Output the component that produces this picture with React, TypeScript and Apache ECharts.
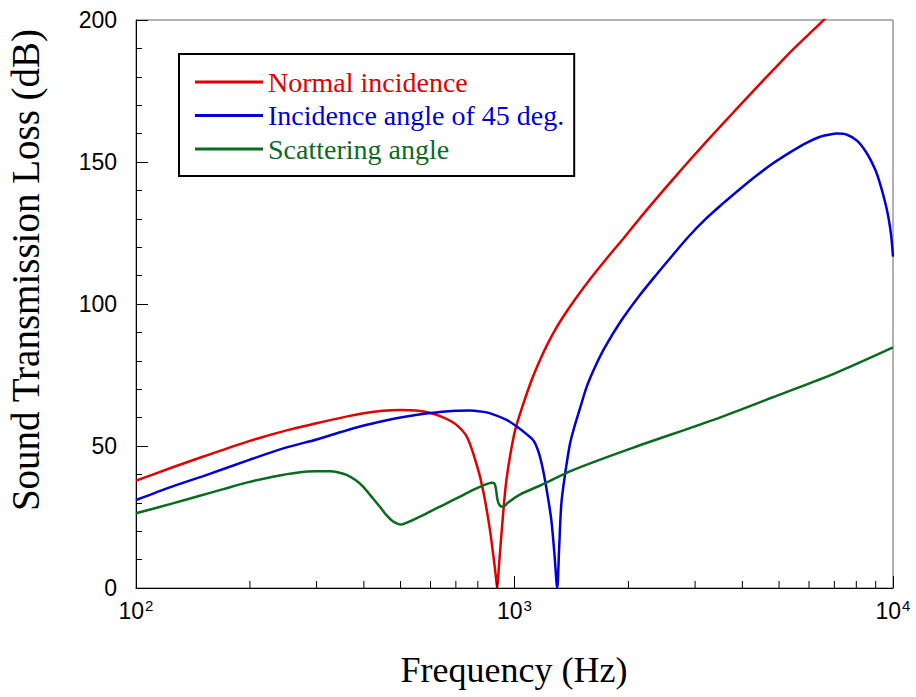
import React, { useEffect, useRef } from "react";
import * as echarts from "echarts";

// Normal incidence
const normalFreq = [100, 125, 150, 200, 250, 300, 350, 400, 450, 500, 550, 600, 650, 700, 750, 800, 830, 860, 880, 893, 900, 910, 925, 940, 952, 975, 1004, 1056, 1112, 1168, 1226, 1295, 1368, 1445, 1583, 1756, 1935, 2150, 2376, 2650, 2910, 3200, 3564, 3950, 4365, 4850, 5346, 5950, 6547, 7000];
const normalTL = [37.8, 42.5, 46.2, 51.8, 55.5, 58.0, 60.0, 61.5, 62.4, 62.7, 62.5, 61.6, 60.0, 57.6, 53.0, 42.0, 33.0, 21.0, 11.0, 4.0, 0, 8, 20, 31, 38, 47, 55.6, 65, 73.5, 80.3, 86.2, 92, 97, 101.6, 108.7, 116.2, 122.9, 130.4, 137.3, 144.6, 150.8, 156.9, 163.7, 170.1, 176.3, 182.7, 188.6, 194.6, 199.9, 203.8];

// Incidence angle of 45 deg.
const obliqueFreq = [100, 125, 150, 200, 250, 300, 350, 400, 450, 500, 600, 700, 760, 820, 863, 950, 1016, 1080, 1124, 1160, 1190, 1220, 1251, 1275, 1297, 1312, 1330, 1360, 1402, 1445, 1490, 1552, 1632, 1734, 1911, 2120, 2376, 2607, 2873, 3186, 3562, 3943, 4319, 4790, 5345, 5855, 6415, 6817, 7113, 7556, 8033, 8535, 8960, 9237, 9526, 9719, 9879, 10000];
const obliqueTL = [31.0, 35.8, 39.3, 45.2, 49.5, 52.3, 55.0, 57.2, 58.8, 60.0, 61.6, 62.4, 62.5, 62.1, 61.5, 59.3, 56.8, 54.0, 51.8, 47.5, 41.5, 33.5, 24, 12, 0, 14, 29.8, 40, 50.9, 57.5, 63.3, 70.9, 77.8, 84.8, 94.0, 102.3, 110.5, 116.9, 123.5, 129.7, 135.5, 140.5, 144.8, 149.3, 153.4, 156.5, 158.9, 159.7, 160.0, 159.6, 157.5, 153, 147.5, 142.5, 136, 130.7, 124.5, 116.7];

// Scattering angle
const scatterFreq = [100, 125, 145, 170, 196, 230, 266, 300, 325, 345, 360, 380, 398, 420, 441, 460, 478, 492, 503, 530, 560, 598, 650, 718, 780, 840, 870, 885, 893, 902, 915, 935, 960, 1033, 1166, 1427, 2000, 3485, 5000, 7000, 10000];
const scatterTL = [26.3, 29.8, 32.2, 34.8, 37.1, 39.2, 40.6, 41.1, 41.1, 40.6, 39.8, 38.0, 35.7, 32.0, 28.6, 25.5, 23.4, 22.6, 22.4, 23.5, 25.0, 26.9, 29.3, 32.2, 34.6, 36.5, 37.1, 36.8, 35.0, 31.0, 29.0, 28.6, 30.0, 32.9, 36.0, 41.5, 48.8, 60.0, 68.0, 75.5, 84.7];

const seriesNames = ["Normal incidence", "Incidence angle of 45 deg.", "Scattering angle"];
const seriesColors = ["#e00000", "#0000d6", "#0a6b1f"];
const xMinorTicks = [200, 300, 400, 500, 600, 700, 800, 900, 2000, 3000, 4000, 5000, 6000, 7000, 8000, 9000];

const zip = (f: number[], v: number[]) => f.map((x, i) => [x, v[i]]);

export default function App() {
  const ref = useRef<HTMLDivElement>(null);
  useEffect(() => {
    const chart = echarts.init(ref.current!, null, { renderer: "svg" });
    const lineSeries = [
      zip(normalFreq, normalTL),
      zip(obliqueFreq, obliqueTL),
      zip(scatterFreq, scatterTL),
    ].map((data, i) => ({
      name: seriesNames[i],
      type: "line",
      data,
      showSymbol: false,
      smooth: 0.3,
      clip: true,
      color: seriesColors[i],
      lineStyle: { width: 2.5, color: seriesColors[i] },
      z: 3,
    }));
    chart.setOption({
      animation: false,
      backgroundColor: "#fff",
      grid: { left: 136, right: 23, top: 20, bottom: 109, show: true, borderColor: "#666", borderWidth: 1 },
      xAxis: {
        type: "log",
        logBase: 10,
        min: 100,
        max: 10000,
        axisLine: { lineStyle: { color: "#000", width: 1 } },
        axisTick: { inside: true, length: 12, lineStyle: { color: "#000" } },
        splitLine: { show: false },
        axisLabel: {
          margin: 10,
          formatter: (v: number) => `{b|10}{s|${Math.round(Math.log10(v))}}`,
          rich: {
            b: { fontSize: 23, fontFamily: "Liberation Sans", color: "#000", lineHeight: 26 },
            s: { fontSize: 15, fontFamily: "Liberation Sans", color: "#000", verticalAlign: "top", lineHeight: 15, padding: [0, 0, 0, 1] },
          },
        },
      },
      yAxis: {
        type: "value",
        min: 0,
        max: 200,
        interval: 50,
        axisLine: { show: true, lineStyle: { color: "#000", width: 1 } },
        axisTick: { inside: true, length: 12, lineStyle: { color: "#000" } },
        minorTick: { show: true, splitNumber: 5, length: 6, lineStyle: { color: "#000" } },
        splitLine: { show: false },
        minorSplitLine: { show: false },
        axisLabel: { margin: 19, fontSize: 23, fontFamily: "Liberation Sans", color: "#000" },
      },
      legend: {
        orient: "vertical",
        left: 179,
        top: 54,
        padding: [14, 10, 13, 16],
        itemGap: 5.5,
        itemWidth: 68,
        itemHeight: 3,
        icon: "rect",
        borderColor: "#000",
        borderWidth: 2,
        backgroundColor: "#fff",
        selectedMode: false,
        textStyle: { fontFamily: "Liberation Serif", fontSize: 28 },
        data: seriesNames.map((n, i) => ({ name: n, textStyle: { color: seriesColors[i] } })),
      },
      graphic: [
        {
          type: "text",
          x: 25,
          y: 270,
          rotation: Math.PI / 2,
          style: {
            text: "Sound Transmission Loss (dB)",
            font: '39px "Liberation Serif"',
            fill: "#000",
            align: "center",
            verticalAlign: "middle",
          },
        },
        {
          type: "text",
          x: 514,
          y: 670,
          style: {
            text: "Frequency (Hz)",
            font: '36px "Liberation Serif"',
            fill: "#000",
            align: "center",
            verticalAlign: "middle",
          },
        },
      ],
      series: [
        ...lineSeries,
        {
          type: "custom",
          silent: true,
          data: xMinorTicks.map((f) => [f, 0]),
          renderItem: (params: any, api: any) => {
            const p = api.coord([api.value(0), 0]);
            return {
              type: "line",
              shape: { x1: p[0], y1: p[1], x2: p[0], y2: p[1] - 7 },
              style: { stroke: "#000", lineWidth: 1 },
            };
          },
          z: 5,
        },
      ],
    });
    return () => chart.dispose();
  }, []);
  return <div ref={ref} style={{ position: "absolute", left: 0, top: 0, width: 916, height: 697 }} />;
}
